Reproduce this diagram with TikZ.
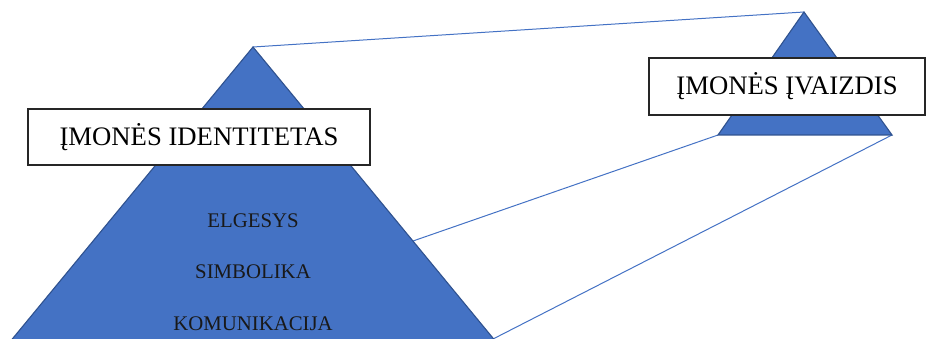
\documentclass[tikz,border=0pt]{standalone}
\usepackage{fontspec}
\setmainfont{Liberation Serif}
\definecolor{tri}{HTML}{4472C4}
\definecolor{triedge}{HTML}{2F528F}
\begin{document}
\begin{tikzpicture}[x=1pt,y=-1pt,
  trishape/.style={fill=tri,draw=triedge,line width=1.1pt,line join=miter},
  link/.style={draw=tri,line width=1pt},
  titlebox/.style={draw=black!85,fill=white,line width=1.1pt,inner sep=0pt,font=\fontsize{26.7}{30}\selectfont},
  inner/.style={font=\fontsize{20.8}{23}\selectfont,text=black!90}]
\useasboundingbox (0,0) rectangle (941,339);
\clip (0,0) rectangle (941,339);
% coordinates
\coordinate (LA) at (253,47);
\coordinate (LBL) at (9,343);
\coordinate (LBR) at (497,343);
\coordinate (LE) at (413,241);
\coordinate (LB) at (493,339);
\coordinate (RA) at (804,12);
\coordinate (RBL) at (718,135);
\coordinate (RBR) at (892,135);
% connectors
\draw[link] (LA) -- (RA);
\draw[link] (LE) -- (RBL);
\draw[link] (LB) -- (RBR);
% triangles
\draw[trishape] (LA) -- (LBR) -- (LBL) -- cycle;
\draw[trishape] (RA) -- (RBR) -- (RBL) -- cycle;
% boxes
\node[titlebox,minimum width=342pt,minimum height=56pt] (idbox) at (199,137) {ĮMONĖS IDENTITETAS};
\node[titlebox,minimum width=276pt,minimum height=57pt] (imbox) at (787,86.5) {ĮMONĖS ĮVAIZDIS};
% inner texts
\node[inner] (elg) at (253,221) {ELGESYS};
\node[inner] (sim) at (253,272) {SIMBOLIKA};
\node[inner] (kom) at (253,324) {KOMUNIKACIJA};
\end{tikzpicture}
\end{document}
